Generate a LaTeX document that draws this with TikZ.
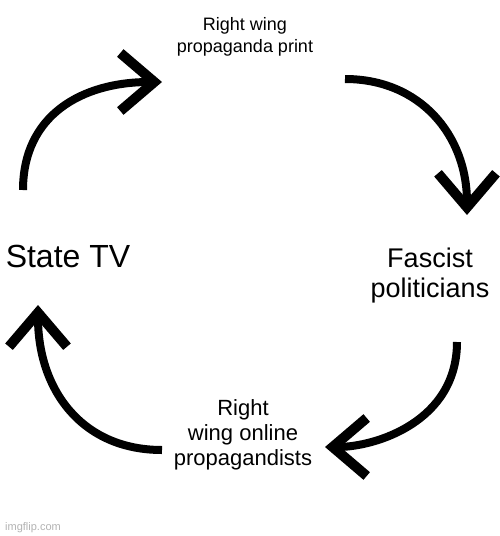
\documentclass[tikz,border=0pt]{standalone}
\usepackage{fontspec}
\setmainfont{Liberation Sans}
\usetikzlibrary{arrows.meta}

\begin{document}
\begin{tikzpicture}[x=1pt,y=-1pt,
  cyc/.style={line width=8pt,-{Straight Barb[length=34pt,width=58pt,line width=10pt,line join=miter]}},
  lbl/.style={align=center,anchor=base,inner sep=0pt}]
  \useasboundingbox (0,0) rectangle (500,536);

  \node[lbl,font=\fontsize{18}{22}\selectfont] (print) at (245,52) {Right wing\\propaganda print};
  \node[lbl,font=\fontsize{32}{36}\selectfont] (statetv) at (68,267) {State TV};
  \node[lbl,font=\fontsize{27}{30}\selectfont] (fascists) at (430,297) {Fascist\\politicians};
  \node[lbl,font=\fontsize{22}{25}\selectfont] (online) at (243,465) {Right\\wing online\\propagandists};
  \node[anchor=base west,inner sep=0pt,text=black!30,font=\fontsize{11}{13}\selectfont] (mark) at (5,530) {imgflip.com};

  % arrow ends
  \coordinate (a1s) at (23,190);  \coordinate (a1e) at (162,82);
  \coordinate (a2s) at (345,79);  \coordinate (a2e) at (467,215);
  \coordinate (a3s) at (457,342); \coordinate (a3e) at (325,447);
  \coordinate (a4s) at (162,450); \coordinate (a4e) at (38,305);

  \draw[cyc] (a1s) .. controls +(0,-75) and +(-80,0) .. (a1e);
  \draw[cyc] (a2s) .. controls +(75,0) and +(0,-80) .. (a2e);
  \draw[cyc] (a3s) .. controls +(0,80) and +(50,0) .. (a3e);
  \draw[cyc] (a4s) .. controls +(-80,0) and +(0,85) .. (a4e);
\end{tikzpicture}
\end{document}
